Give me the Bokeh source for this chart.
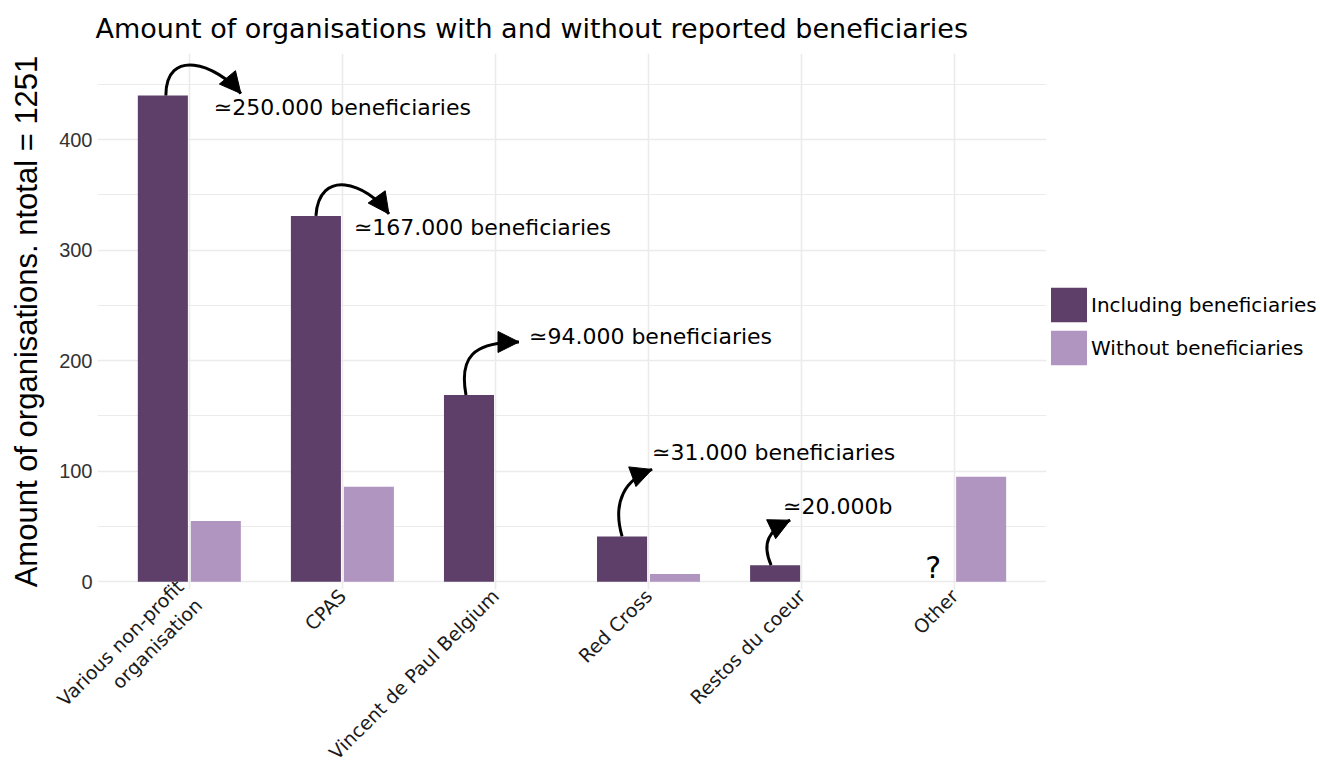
import numpy as np
from bokeh.plotting import figure
from bokeh.models import Range1d, FixedTicker, Legend, LegendItem, Arrow, NormalHead
from bokeh.core.properties import value
from bokeh.embed import file_html
from bokeh.resources import INLINE

# ---- data ----
categories = ["Various non-profit\norganisation", "CPAS", "Vincent de Paul Belgium",
              "Red Cross", "Restos du coeur", "Other"]
including = [440, 331, 169, 41, 15, 0]
without = [55, 86, 0, 7, 0, 95]
series_names = ["Including beneficiaries", "Without beneficiaries"]
y_ticks = [0, 100, 200, 300, 400]
y_minor = [50, 150, 250, 350, 450]
note_labels = ["\u2243250.000 beneficiaries", "\u2243167.000 beneficiaries",
               "\u224394.000 beneficiaries", "\u224331.000 beneficiaries", "\u224320.000b"]
unknown_label = "?"

# ---- layout / style ----
DARK = "#5D3F6A"
LIGHT = "#B195C1"
FRAME_W, FRAME_H = 949, 536
X0, X1 = 0.4, 6.6
Y0, Y1 = -7, 478
GRID_TOP = 462
PXX = FRAME_W / (X1 - X0)
PXY = FRAME_H / (Y1 - Y0)
DODGE = 0.173
BAR_W = 0.327

xs = np.arange(1, len(categories) + 1)

p = figure(frame_width=FRAME_W, frame_height=FRAME_H,
           x_range=Range1d(X0, X1), y_range=Range1d(Y0, Y1),
           output_backend="svg", toolbar_location=None,
           min_border_left=97, min_border_right=266, min_border_top=52,
           min_border_bottom=10,
           title="Amount of organisations with and without reported beneficiaries")

p.outline_line_color = None
p.background_fill_color = "white"

r_inc = p.vbar(x=xs - DODGE, top=including, bottom=0, width=BAR_W,
               fill_color=DARK, line_color=None)
r_wo = p.vbar(x=xs + DODGE, top=without, bottom=0, width=BAR_W,
              fill_color=LIGHT, line_color=None)

# axes
p.xaxis.ticker = FixedTicker(ticks=list(xs))
p.xaxis.major_label_overrides = {int(i): c for i, c in zip(xs, categories)}
p.xaxis.major_label_orientation = np.pi / 4
p.xaxis.major_label_text_font = "DejaVu Sans"
p.xaxis.major_label_text_font_size = "19px"
p.xaxis.major_label_text_color = "#1a1a1a"
p.xaxis.major_label_standoff = 3

p.yaxis.ticker = FixedTicker(ticks=y_ticks, minor_ticks=y_minor)
p.yaxis.major_label_text_font = "Liberation Sans"
p.yaxis.major_label_text_font_size = "20px"
p.yaxis.major_label_text_color = "#333333"
p.yaxis.major_label_standoff = 5
p.yaxis.axis_label = "Amount of organisations. ntotal = 1251"
p.yaxis.axis_label_text_font = "Liberation Sans"
p.yaxis.axis_label_text_font_size = "31px"
p.yaxis.axis_label_text_font_style = "normal"
p.yaxis.axis_label_text_color = "black"
p.yaxis.axis_label_standoff = 12

for ax in (p.xaxis, p.yaxis):
    ax.axis_line_color = None
    ax.major_tick_line_color = None
    ax.minor_tick_line_color = None
    ax.major_tick_out = 0
    ax.major_tick_in = 0
    ax.minor_tick_out = 0
    ax.minor_tick_in = 0

p.xgrid.ticker = FixedTicker(ticks=list(xs))
p.xgrid.grid_line_color = "#ebebeb"
p.xgrid.grid_line_width = 1.6
p.xgrid.bounds = (Y0, GRID_TOP)
p.ygrid.ticker = FixedTicker(ticks=y_ticks, minor_ticks=y_minor)
p.ygrid.grid_line_color = "#ebebeb"
p.ygrid.grid_line_width = 1.6
p.ygrid.minor_grid_line_color = "#ebebeb"
p.ygrid.minor_grid_line_width = 1.1

# title
p.title.text_font = "DejaVu Sans"
p.title.text_font_size = "27px"
p.title.text_font_style = "normal"
p.title.text_color = "black"
p.title.align = "left"
p.title.offset = -2
p.title.standoff = 20

# ---- curved arrow annotations (pixel offsets from the top of each dark bar) ----
# start dx, (c1 dx, dy), (c2 dx, dy), (tip dx, dy), (label dx, dy)
arrow_geom = [
    (3, (3, -48), (53, -32), (78, -2), (51, 12)),
    (0, (3, -48), (50, -34), (73, -2), (38, 12)),
    (-3, (-10, -38), (4, -53), (50, -53), (60, -58)),
    (0, (-10, -35), (3, -57), (30, -67), (30, -84)),
    (-4, (-14, -23), (-6, -35), (15, -45), (8, -59)),
]

def to_data(bx, by, dx, dy):
    return bx + dx / PXX, by - dy / PXY

for i, (sdx, c1, c2, tip, lab) in enumerate(arrow_geom):
    bx, by = xs[i] - DODGE, including[i]
    sx, sy = to_data(bx, by, sdx, 0)
    c1x, c1y = to_data(bx, by, *c1)
    c2x, c2y = to_data(bx, by, *c2)
    ex, ey = to_data(bx, by, *tip)
    lx, ly = to_data(bx, by, *lab)
    p.bezier(x0=[sx], y0=[sy], x1=[ex], y1=[ey], cx0=[c1x], cy0=[c1y],
             cx1=[c2x], cy1=[c2y], line_color="black", line_width=3)
    p.add_layout(Arrow(x_start=c2x, y_start=c2y, x_end=ex, y_end=ey, line_alpha=0,
                       end=NormalHead(size=21, fill_color="black", line_color="black",
                                      line_width=1)))
    p.text(x=[lx], y=[ly], text=[note_labels[i]], text_font=value("DejaVu Sans"),
           text_font_size="22px", text_align="left", text_baseline="middle",
           text_color="black")

# the "?" for the Other group
qx, qy = to_data(xs[5] - DODGE, 0, 5, -14)
p.text(x=[qx], y=[qy], text=[unknown_label], text_font=value("DejaVu Sans"),
       text_font_size="30px", text_align="center", text_baseline="middle",
       text_color="black")

# legend
legend = Legend(items=[LegendItem(label=series_names[0], renderers=[r_inc]),
                       LegendItem(label=series_names[1], renderers=[r_wo])],
                location=(0, 220))
legend.glyph_width = 45
legend.glyph_height = 43
legend.label_height = 43
legend.spacing = 0
legend.padding = 0
legend.margin = 0
legend.label_standoff = 0
legend.label_text_font = "DejaVu Sans"
legend.label_text_font_size = "20px"
legend.label_text_color = "black"
legend.border_line_color = None
legend.background_fill_alpha = 0
p.add_layout(legend, "right")

open("out.html", "w").write(file_html(p, INLINE))
